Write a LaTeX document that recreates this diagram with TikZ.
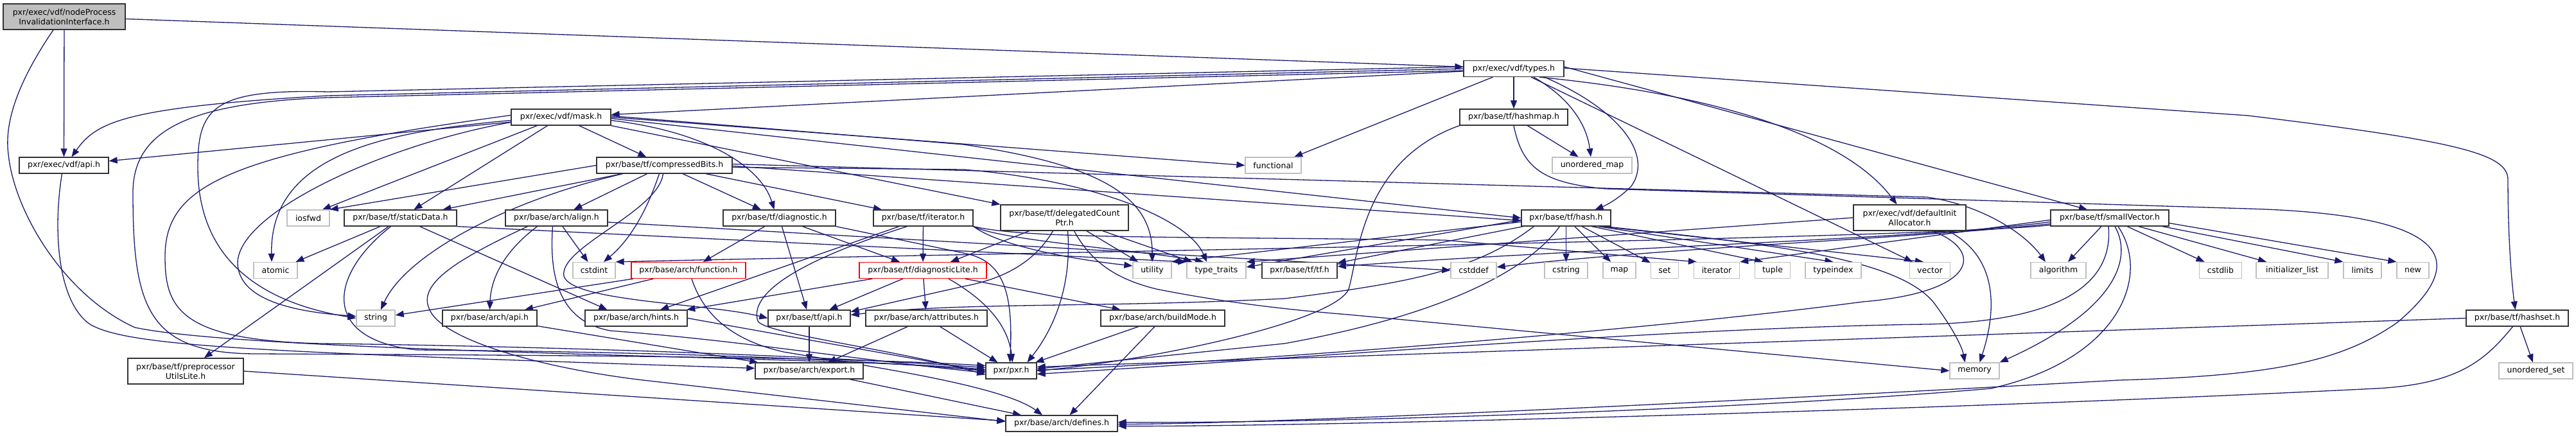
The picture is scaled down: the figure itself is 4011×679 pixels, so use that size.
\documentclass[tikz,border=0pt]{standalone}
\usepackage{fontspec}
\newfontfamily\dvs{DejaVu Sans}
\usetikzlibrary{arrows.meta}
\definecolor{edgec}{HTML}{191970}
\definecolor{greyl}{HTML}{BFBFBF}
\definecolor{boxline}{HTML}{333333}
\pgfdeclarelayer{edgelayer}
\pgfsetlayers{edgelayer,main}
\begin{document}
\begin{tikzpicture}[x=1pt,y=-1pt,
  nb/.style={draw=boxline, line width=1.3pt, fill=white, inner sep=0pt, minimum height=25pt, align=center, font=\dvs\fontsize{12.5}{15}\selectfont},
  ng/.style={nb, draw=greyl},
  nr/.style={nb, draw=red},
  e/.style={draw=edgec, line width=1.3pt, -{Triangle[length=13pt,width=10pt]}}]
\useasboundingbox (0,0) rectangle (4011,679);
% row 0
\node[nb, minimum width=190pt, minimum height=40pt, fill=greyl] (root) at (100,26) {pxr/exec/vdf/nodeProcess\\InvalidationInterface.h};
% row 1
\node[nb, minimum width=156pt] (types) at (2357,107) {pxr/exec/vdf/types.h};
% row 2
\node[nb, minimum width=155pt] (mask) at (873.5,182.5) {pxr/exec/vdf/mask.h};
\node[nb, minimum width=168pt] (hashmap) at (2357,182.5) {pxr/base/tf/hashmap.h};
% row 3
\node[nb, minimum width=139pt] (vdfapi) at (99.5,257.5) {pxr/exec/vdf/api.h};
\node[nb, minimum width=211pt] (cbits) at (1034.5,257.5) {pxr/base/tf/compressedBits.h};
\node[ng, minimum width=87pt] (functional) at (1982.5,257.5) {functional};
\node[ng, minimum width=124pt] (umap) at (2479,257.5) {unordered\_map};
% row 4
\node[ng, minimum width=66pt] (iosfwd) at (480,339.5) {iosfwd};
\node[nb, minimum width=175pt] (static) at (623.5,339.5) {pxr/base/tf/staticData.h};
\node[nb, minimum width=159pt] (align) at (866.5,339.5) {pxr/base/arch/align.h};
\node[nb, minimum width=175pt] (diag) at (1213.5,339.5) {pxr/base/tf/diagnostic.h};
\node[nb, minimum width=155pt] (itert) at (1437.5,339.5) {pxr/base/tf/iterator.h};
\node[nb, minimum width=199pt, minimum height=40pt] (dcp) at (1657.5,339) {pxr/base/tf/delegatedCount\\Ptr.h};
\node[nb, minimum width=139pt] (hash) at (2438.5,339.5) {pxr/base/tf/hash.h};
\node[nb, minimum width=175pt, minimum height=40pt] (dia) at (2973.5,339) {pxr/exec/vdf/defaultInit\\Allocator.h};
\node[nb, minimum width=184pt] (svec) at (3285,339.5) {pxr/base/tf/smallVector.h};
% row 5
\node[ng, minimum width=68pt] (atomic) at (429,421) {atomic};
\node[ng, minimum width=66pt] (cstdint) at (925,421) {cstdint};
\node[nr, minimum width=178pt] (function) at (1072,421) {pxr/base/arch/function.h};
\node[nr, minimum width=198pt] (diaglite) at (1437,421) {pxr/base/tf/diagnosticLite.h};
\node[ng, minimum width=60pt] (utility) at (1794,421) {utility};
\node[ng, minimum width=92pt] (typetraits) at (1894,421) {type\_traits};
\node[nb, minimum width=117pt] (tfh) at (2023.5,421) {pxr/base/tf/tf.h};
\node[ng, minimum width=71pt] (cstddef) at (2294.5,421) {cstddef};
\node[ng, minimum width=67pt] (cstring) at (2438.5,421) {cstring};
\node[ng, minimum width=51pt] (map) at (2521.5,421) {map};
\node[ng, minimum width=43pt] (set) at (2592,421) {set};
\node[ng, minimum width=71pt] (iterator) at (2673,421) {iterator};
\node[ng, minimum width=55pt] (tuple) at (2760,421) {tuple};
\node[ng, minimum width=87pt] (typeindex) at (2854.5,421) {typeindex};
\node[ng, minimum width=63pt] (vector) at (3005,421) {vector};
\node[ng, minimum width=86pt] (algorithm) at (3205,421) {algorithm};
\node[ng, minimum width=66pt] (cstdlib) at (3457.5,421) {cstdlib};
\node[ng, minimum width=112pt] (initlist) at (3569,421) {initializer\_list};
\node[ng, minimum width=59pt] (limits) at (3678.5,421) {limits};
\node[ng, minimum width=50pt] (new) at (3757,421) {new};
% row 6
\node[ng, minimum width=60pt] (string) at (585,495.5) {string};
\node[nb, minimum width=147pt] (archapi) at (762.5,495.5) {pxr/base/arch/api.h};
\node[nb, minimum width=159pt] (hints) at (990.5,495.5) {pxr/base/arch/hints.h};
\node[nb, minimum width=128pt] (tfapi) at (1260,495.5) {pxr/base/tf/api.h};
\node[nb, minimum width=189pt] (attrs) at (1442.5,495.5) {pxr/base/arch/attributes.h};
\node[nb, minimum width=193pt] (buildmode) at (1810.5,495.5) {pxr/base/arch/buildMode.h};
\node[nb, minimum width=159pt] (hashset) at (3919.5,495.5) {pxr/base/tf/hashset.h};
% row 7
\node[nb, minimum width=180pt, minimum height=40pt] (preproc) at (289,578) {pxr/base/tf/preprocessor\\UtilsLite.h};
\node[nb, minimum width=168pt] (export) at (1260,577.5) {pxr/base/arch/export.h};
\node[nb, minimum width=79pt] (pxr) at (1574.5,577.5) {pxr/pxr.h};
\node[ng, minimum width=77pt] (memory) at (3074.5,577.5) {memory};
\node[ng, minimum width=115pt] (uset) at (3948.5,577.5) {unordered\_set};
% row 8
\node[nb, minimum width=174pt] (defines) at (1653,659.5) {pxr/base/arch/defines.h};

\begin{pgfonlayer}{edgelayer}
% root
\draw[e] (root) -- (vdfapi);
\draw[e] (root) -- (types);
\draw[e] ([xshift=-17pt]root.south) .. controls (40,110) and (5,180) .. (13,240) .. controls (22,330) and (100,460) .. (210,510) .. controls (400,550) and (1300,555) .. ([yshift=2pt]pxr.west);
% vdf api
\draw[e] ([xshift=-3pt]vdfapi.south) .. controls (82,360) and (90,470) .. (140,505) .. controls (200,540) and (400,548) .. ([yshift=4pt]export.west);
% types
\draw[e] (types) -- (mask);
\draw[e] (types) -- (hashmap);
\draw[e] ([xshift=31pt]types.south) .. controls (2440,150) and (2470,190) .. ([xshift=-2pt]umap.north);
\draw[e] (types) -- (functional);
\draw[e] ([xshift=40pt]types.south) .. controls (2700,150) and (2880,220) .. ([xshift=-20pt]dia.north);
\draw[e] ([yshift=3pt]types.east) -- ([xshift=-35pt]svec.north);
\draw[e] ([yshift=1pt]types.east) -- (3500,180) .. controls (3830,220) and (3905,240) .. (3905,280) .. controls (3905,380) and (3912,450) .. ([xshift=-3pt]hashset.north);
\draw[e] (types) -- (vector);
\draw[e] ([xshift=48pt]types.south) .. controls (2520,170) and (2575,240) .. (2540,290) .. controls (2520,310) and (2500,320) .. ([xshift=45pt]hash.north);
\draw[e] (types.west) -- (510,149) .. controls (193,167) and (150,190) .. ([xshift=12pt]vdfapi.north);
\draw[e] ([yshift=3pt]types.west) -- (510,143) .. controls (330,138) and (308,170) .. (308,260) .. controls (308,400) and (400,470) .. (string.west);
\draw[e] ([yshift=-3pt]types.west) -- (510,152) .. controls (300,160) and (207,200) .. (207,300) .. controls (207,480) and (230,551) .. (400,551) .. controls (800,553) and (1300,555) .. ([yshift=8pt]pxr.west);
% mask
\draw[e] (mask) -- (vdfapi);
\draw[e] ([yshift=-5pt]mask.west) .. controls (600,205) and (420,240) .. ([xshift=-6pt]atomic.north);
\draw[e] ([xshift=-37pt]mask.south) -- ([xshift=22pt]iosfwd.north);
\draw[e] ([yshift=-8pt]mask.west) .. controls (600,225) and (370,330) .. (370,410) .. controls (372,465) and (450,485) .. ([yshift=3pt]string.west);
\draw[e] ([yshift=3pt]mask.west) .. controls (350,240) and (257,290) .. (257,400) .. controls (257,480) and (280,530) .. (500,535) .. controls (900,540) and (1300,556) .. ([yshift=5pt]pxr.west);
\draw[e] (mask) -- (static);
\draw[e] (mask) -- (cbits);
\draw[e] ([yshift=-5pt]mask.east) .. controls (1100,205) and (1185,260) .. ([xshift=-8pt]diag.north);
\draw[e] (mask.south east) -- (dcp.north west);
\draw[e] (mask.east) -- (functional.west);
\draw[e] ([yshift=2pt]mask.east) -- (1500,225) .. controls (1700,255) and (1795,300) .. (utility.north);
\draw[e] ([yshift=-2pt]mask.east) -- (hash.west);
% compressedBits
\draw[e] (cbits) -- (static);
\draw[e] (cbits.west) -- (iosfwd.north east);
\draw[e] (cbits) -- (align);
\draw[e] (cbits) -- (diag);
\draw[e] (cbits) -- (itert);
\draw[e] ([xshift=-65pt]cbits.south) .. controls (780,315) and (630,400) .. ([xshift=8pt]string.north);
\draw[e] ([xshift=-8pt]cbits.south) .. controls (1010,320) and (985,370) .. ([xshift=15pt]cstdint.north);
\draw[e] ([xshift=-2pt]cbits.south) .. controls (1025,330) and (870,385) .. (878,430) .. controls (890,470) and (1100,472) .. (tfapi.west);
\draw[e] ([yshift=-1pt]cbits.east) -- ([yshift=-4pt]hash.west);
\draw[e] ([yshift=-3pt]cbits.east) -- (1500,264) .. controls (1700,280) and (1850,340) .. ([xshift=-15pt]typetraits.north);
\draw[e] ([yshift=2pt]cbits.east) -- (3000,307) .. controls (3080,318) and (3150,360) .. ([xshift=-20pt]algorithm.north);
% staticData
\draw[e] (static) -- (atomic);
\draw[e] (static) -- (preproc);
\draw[e] ([xshift=30pt]static.south) -- ([xshift=-45pt]hints.north);
\draw[e] ([xshift=-15pt]static.south) .. controls (510,430) and (500,530) .. (650,545) .. controls (1000,548) and (1300,557) .. (pxr.west);
\draw[e] (static.south east) -- (typetraits.north west);
% align
\draw[e] (align) -- (cstdint);
\draw[e] ([xshift=-30pt]align.south) .. controls (800,380) and (765,420) .. (archapi.north);
\draw[e] ([xshift=-6pt]align.south) .. controls (855,430) and (870,500) .. (950,515) .. controls (1150,530) and (1300,556) .. ([yshift=-3pt]pxr.west);
\draw[e] ([xshift=-45pt]align.south) .. controls (720,400) and (650,440) .. (668,480) .. controls (685,530) and (850,575) .. (1010,593) -- ([yshift=3pt]defines.west);
\draw[e] ([yshift=-6.5pt]align.east) -- (cstddef.west);
% diagnostic
\draw[e] (diag) -- (function);
\draw[e] (diag) -- (tfapi);
\draw[e] (diag) -- (diaglite);
\draw[e] (diag.south east) -- (1500,394) .. controls (1560,405) and (1578,450) .. ([xshift=-2pt]pxr.north);
% iterator.h
\draw[e] (itert) -- (hints);
\draw[e] (itert) -- (diaglite);
\draw[e] ([xshift=-25pt]itert.south) .. controls (1200,420) and (1170,470) .. (1180,500) .. controls (1190,520) and (1400,545) .. ([yshift=-6pt]pxr.west);
\draw[e] (itert.south east) .. controls (1600,372) and (1800,368) .. (2250,374) -- ([xshift=5pt]iterator.north west);
\draw[e] (itert.south east) .. controls (1560,375) and (1780,390) .. ([xshift=-20pt]typetraits.north);
\draw[e] (itert.south east) .. controls (1560,385) and (1680,405) .. ([yshift=7pt]utility.west);
% delegatedCountPtr
\draw[e] (dcp) -- (utility);
\draw[e] (dcp) -- (typetraits);
\draw[e] ([xshift=15pt]dcp.south) .. controls (1700,410) and (1740,435) .. (1800,450) .. controls (1900,470) and (2000,482) .. (2100,490) -- (memory.west);
\draw[e] ([xshift=5pt]dcp.south) .. controls (1668,430) and (1650,500) .. ([xshift=25pt]pxr.north);
\draw[e] ([xshift=-55pt]dcp.south) -- ([xshift=43pt]diaglite.north);
\draw[e] ([xshift=-18pt]dcp.south) .. controls (1610,410) and (1560,435) .. (1500,446) -- ([yshift=10pt]tfapi.east);
% hash
\draw[e] (hash) -- (tfh);
\draw[e] (hash) -- (cstring);
\draw[e] (hash) -- (map);
\draw[e] (hash) -- (set);
\draw[e] ([xshift=40pt]hash.south) -- ([xshift=-15pt]tuple.north);
\draw[e] ([xshift=50pt]hash.south) -- (typeindex.north);
\draw[e] ([xshift=55pt]hash.south) -- ([xshift=-10pt]vector.north);
\draw[e] ([yshift=-3pt]hash.west) -- ([yshift=5pt]typetraits.east);
\draw[e] ([yshift=-6pt]hash.west) -- (utility.north east);
\draw[e] ([xshift=20pt]hash.south west) .. controls (2300,420) and (2200,440) .. (2000,465) .. controls (1700,480) and (1500,470) .. ([yshift=5pt]tfapi.east);
\draw[e] ([xshift=-10pt]hash.south) .. controls (2380,420) and (2250,490) .. (2000,535) -- ([yshift=3pt]pxr.east);
\draw[e] ([xshift=60pt]hash.south) .. controls (2750,380) and (2950,400) .. (3010,470) .. controls (3040,510) and (3055,540) .. ([xshift=-15pt]memory.north);
% defaultInitAllocator
\draw[e] ([xshift=60pt]dia.south) .. controls (3110,400) and (3110,480) .. ([xshift=8pt]memory.north);
\draw[e] ([xshift=35pt]dia.south) .. controls (3090,390) and (3080,455) .. (2900,470) .. controls (2600,510) and (2000,560) .. ([yshift=1pt]pxr.east);
\draw[e] (dia.west) -- (typetraits.north east);
% smallVector
\draw[e] ([xshift=-13pt]svec.south) -- ([xshift=15pt]algorithm.north);
\draw[e] ([xshift=27pt]svec.south) -- ([xshift=-25pt]cstdlib.north);
\draw[e] ([xshift=45pt]svec.south) -- ([xshift=-40pt]initlist.north);
\draw[e] ([xshift=82pt]svec.south) -- (limits.north west);
\draw[e] ([yshift=-8pt]svec.east) -- (new.north west);
\draw[e] ([yshift=-9pt]svec.west) .. controls (3000,370) and (2600,385) .. ([yshift=5pt]cstddef.east);
\draw[e] ([yshift=-11pt]svec.west) .. controls (3000,372) and (1500,395) .. (cstdint.north east);
\draw[e] ([yshift=-3pt]svec.west) -- (iterator.north east);
\draw[e] ([yshift=-6pt]svec.west) .. controls (3000,372) and (2500,385) .. ([yshift=6pt]tfh.east);
\draw[e] ([xshift=8pt]svec.south) .. controls (3320,400) and (3300,480) .. (memory.north east);
\draw[e] ([xshift=-2pt]svec.south) .. controls (3290,430) and (3230,500) .. (3000,505) .. controls (2600,510) and (2000,560) .. ([yshift=-5pt]pxr.east);
\draw[e] ([xshift=13pt]svec.south) .. controls (3350,430) and (3300,560) .. (3100,605) .. controls (2700,640) and (2000,660) .. ([yshift=2pt]defines.east);
% hashmap
\draw[e] (hashmap) -- (umap);
\draw[e] (hashmap.south west) .. controls (2120,250) and (2115,400) .. (2100,450) .. controls (2080,500) and (1800,560) .. (pxr.east);
\draw[e] (hashmap.south) .. controls (2370,260) and (2400,285) .. (2500,294) -- (3500,325) .. controls (3850,335) and (3830,420) .. (3733,502) .. controls (3650,560) and (3550,585) .. (3300,592) .. controls (2800,620) and (2000,660) .. ([yshift=-1pt]defines.east);
% hashset
\draw[e] (hashset) -- (uset);
\draw[e] (hashset.west) -- ([yshift=6pt]pxr.east);
\draw[e] ([xshift=-7pt]hashset.south) .. controls (3870,560) and (3830,598) .. (3700,605) .. controls (3000,640) and (2000,665) .. ([yshift=-4pt]defines.east);
% function
\draw[e] (function) -- (string);
\draw[e] (function) -- (archapi);
\draw[e] ([xshift=5pt]function.south) .. controls (1095,490) and (1140,530) .. (1220,548) .. controls (1350,570) and (1560,600) .. ([xshift=-30pt]defines.north);
% diagnosticLite
\draw[e] (diaglite) -- (attrs);
\draw[e] (diaglite) -- (buildmode);
\draw[e] (diaglite) -- (tfapi);
\draw[e] (diaglite) -- (hints);
\draw[e] ([xshift=40pt]diaglite.south) .. controls (1540,470) and (1570,510) .. ([xshift=2pt]pxr.north);
% lower nodes
\draw[e] (tfapi) -- (export);
\draw[e] (archapi) -- (export);
\draw[e] (hints.east) -- ([yshift=-1pt]pxr.west);
\draw[e] (export) -- (defines);
\draw[e] (attrs) -- (export);
\draw[e] (attrs) -- (pxr);
\draw[e] (buildmode) -- (pxr);
\draw[e] (buildmode) -- (defines);
\draw[e] (preproc.east) -- ([yshift=4pt]defines.west);
\end{pgfonlayer}
\end{tikzpicture}
\end{document}
